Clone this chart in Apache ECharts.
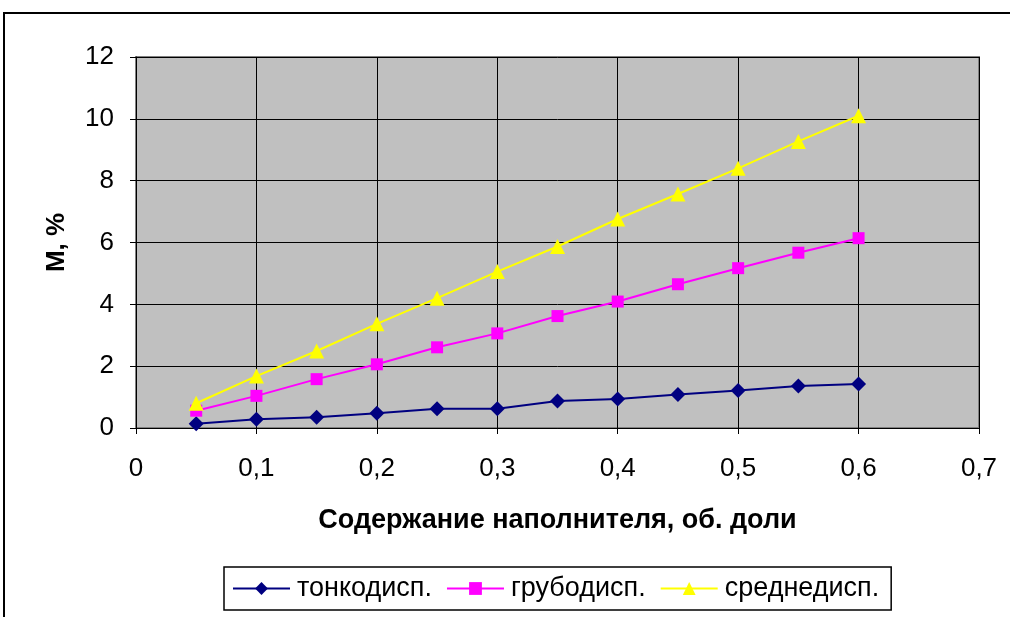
<!DOCTYPE html>
<html>
<head>
<meta charset="utf-8">
<script src="https://cdn.jsdelivr.net/npm/echarts@6/dist/echarts.min.js"></script>
<style>
  html, body { margin: 0; padding: 0; background: #fff; }
  #chart { width: 1010px; height: 617px; }
</style>
</head>
<body>
<div id="chart"></div>
<script>
// Filler volume fraction
const fraction = [0.05, 0.1, 0.15, 0.2, 0.25, 0.3, 0.35, 0.4, 0.45, 0.5, 0.55, 0.6];
// M, % for each dispersion
const fineDisp   = [0.14, 0.28, 0.35, 0.48, 0.62, 0.62, 0.87, 0.94, 1.08, 1.21, 1.36, 1.42];
const coarseDisp = [0.56, 1.04, 1.58, 2.06, 2.61, 3.06, 3.62, 4.09, 4.65, 5.17, 5.67, 6.14];
const mediumDisp = [0.80, 1.68, 2.49, 3.37, 4.20, 5.06, 5.87, 6.76, 7.57, 8.40, 9.27, 10.10];

const seriesNames = ['тонкодисп.', 'грубодисп.', 'среднедисп.'];
const xTitle = 'Содержание наполнителя, об. доли';
const yTitle = 'M, %';

const FONT = 'Liberation Sans, Arial, sans-serif';
const pairs = ys => fraction.map((x, i) => [x, ys[i]]);

const chart = echarts.init(document.getElementById('chart'), null, { renderer: 'canvas' });
chart.setOption({
  animation: false,
  backgroundColor: '#ffffff',
  textStyle: { fontFamily: FONT, color: '#000' },
  graphic: [
    // outer chart frame
    { type: 'polyline', shape: { points: [[4, 630], [4, 13], [1020, 13]] },
      style: { stroke: '#000', lineWidth: 2, fill: null }, z: 0 }
  ],
  grid: {
    left: 136, right: 31, top: 57, bottom: 189,
    show: true, backgroundColor: '#C0C0C0', borderColor: '#808080', borderWidth: 2
  },
  xAxis: {
    type: 'value', min: 0, max: 0.7, interval: 0.1,
    name: xTitle, nameLocation: 'middle', nameGap: 79,
    nameTextStyle: { fontFamily: FONT, fontSize: 27, fontWeight: 'bold', color: '#000' },
    axisLine: { show: true, onZero: false, lineStyle: { color: '#000', width: 1 } },
    axisTick: { show: true, inside: false, length: 6, lineStyle: { color: '#000' } },
    axisLabel: { fontFamily: FONT, fontSize: 26, color: '#000', margin: 28,
      formatter: v => v === 0 ? '0' : v.toFixed(1).replace('.', ',') },
    splitLine: { show: true, lineStyle: { color: '#000', width: 1 } }
  },
  yAxis: {
    type: 'value', min: 0, max: 12, interval: 2,
    name: yTitle, nameLocation: 'middle', nameGap: 66, nameRotate: 90,
    nameTextStyle: { fontFamily: FONT, fontSize: 26, fontWeight: 'bold', color: '#000' },
    axisLine: { show: true, onZero: false, lineStyle: { color: '#000', width: 1 } },
    axisTick: { show: true, inside: false, length: 6, lineStyle: { color: '#000' } },
    axisLabel: { fontFamily: FONT, fontSize: 26, color: '#000', margin: 22 },
    splitLine: { show: true, lineStyle: { color: '#000', width: 1 } }
  },
  legend: {
    left: 224, top: 567,
    padding: [8, 12, 8, 8],
    itemGap: 14,
    itemWidth: 57, itemHeight: 16,
    borderColor: '#000', borderWidth: 1.5,
    backgroundColor: '#fff',
    textStyle: { fontFamily: FONT, fontSize: 27, color: '#000', padding: [0, 0, 0, 2] },
    data: seriesNames
  },
  series: [
    { name: seriesNames[0], type: 'line', data: pairs(fineDisp),
      symbol: 'diamond', symbolSize: 15,
      itemStyle: { color: '#000080' }, lineStyle: { color: '#000080', width: 2 } },
    { name: seriesNames[1], type: 'line', data: pairs(coarseDisp),
      symbol: 'rect', symbolSize: 12,
      itemStyle: { color: '#FF00FF' }, lineStyle: { color: '#FF00FF', width: 2 } },
    { name: seriesNames[2], type: 'line', data: pairs(mediumDisp),
      symbol: 'triangle', symbolSize: 15,
      itemStyle: { color: '#FFFF00' }, lineStyle: { color: '#FFFF00', width: 2 } }
  ]
});
</script>
</body>
</html>
